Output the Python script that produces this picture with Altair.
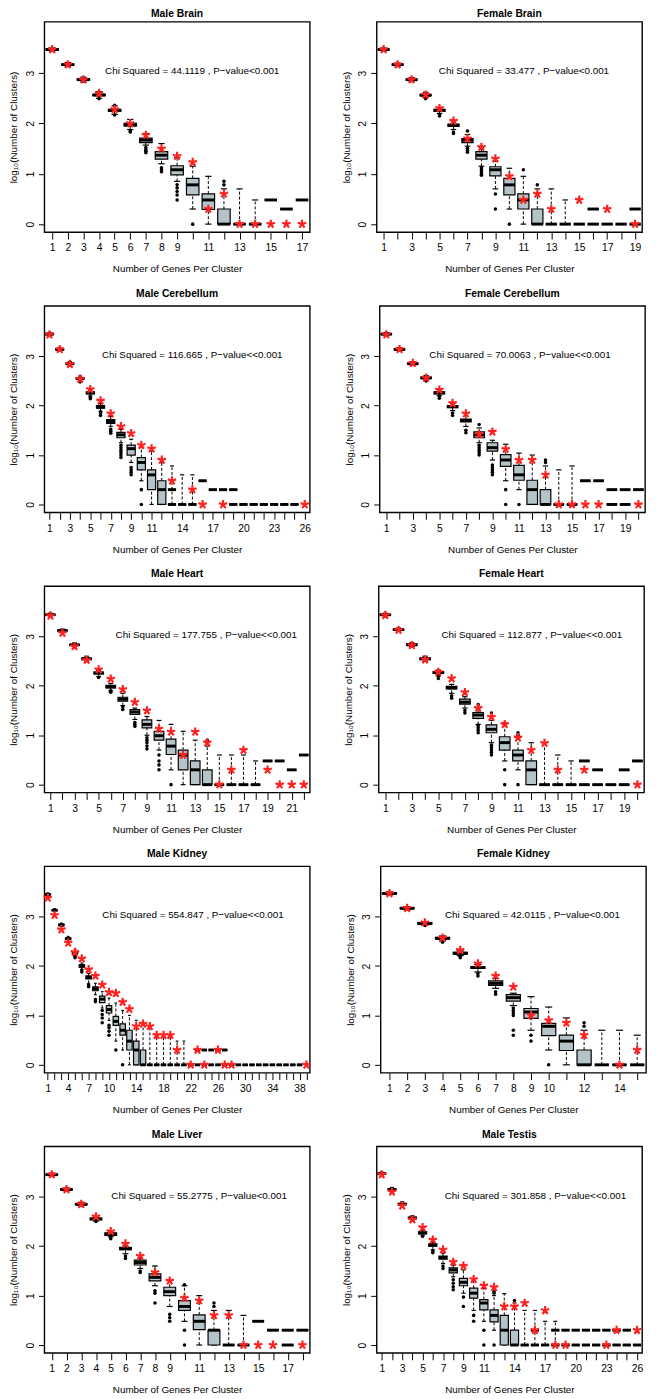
import altair as alt
import pandas as pd

# ---------------- data (log10 number of clusters) ----------------
# box rows: (cluster size, whisker low, q1, median, q3, whisker high)
MB_BOXES = [(1,3.43,3.455,3.47,3.485,3.50),(2,3.13,3.16,3.17,3.18,3.21),(3,2.82,2.86,2.87,2.885,2.92),
            (4,2.50,2.55,2.565,2.58,2.63),(5,2.18,2.24,2.26,2.28,2.35),(6,1.88,1.95,1.97,2.00,2.08),
            (7,1.57,1.62,1.67,1.71,1.80),(8,1.20,1.29,1.37,1.44,1.60),(9,0.85,0.98,1.08,1.16,1.32),
            (10,0.30,0.58,0.78,0.91,1.15),(11,0.00,0.29,0.48,0.60,0.95),(12,0,0,0,0.30,0.70),
            (13,0,0,0,0,0.70),(14,0,0,0,0,0.48),(15,0.48,0.48,0.48,0.48,0.48),(16,0.30,0.30,0.30,0.30,0.30),
            (17,0.48,0.48,0.48,0.48,0.48)]
MB_OUT = [(4,2.49),(5,2.17),(5,2.36),(6,1.83),(6,1.85),(7,1.42),(7,1.45),(7,1.48),(7,1.52),(8,1.04),(8,1.08),
          (8,1.12),(9,0.78),(9,0.72),(9,0.65),(9,0.58),(9,0.48),(10,0.0),(12,0.78),(12,0.85)]
MB_STARS = [(1,3.47),(2,3.17),(3,2.87),(4,2.6),(5,2.28),(6,2.0),(7,1.77),(8,1.5),(9,1.35),(10,1.23),(11,0.3),
            (12,0.6),(13,0),(14,0),(15,0),(16,0),(17,0)]
MB_LABELS = [1,2,3,4,5,6,7,8,9,11,13,15,17]

FB_BOXES = [(1,3.44,3.46,3.47,3.48,3.50),(2,3.13,3.16,3.17,3.18,3.20),(3,2.83,2.86,2.87,2.88,2.91),
            (4,2.51,2.55,2.56,2.58,2.62),(5,2.20,2.24,2.26,2.28,2.32),(6,1.88,1.94,1.96,1.99,2.05),
            (7,1.55,1.62,1.67,1.70,1.78),(8,1.15,1.29,1.37,1.44,1.52),(9,0.70,0.96,1.08,1.14,1.26),
            (10,0.30,0.58,0.78,0.91,1.11),(11,0.00,0.30,0.48,0.60,0.95),(12,0,0,0,0.30,0.70),
            (13,0,0,0,0,0.70),(14,0,0,0,0,0.48),(15,0,0,0,0,0),(16,0,0,0,0,0),(16,0.3,0.3,0.3,0.3,0.3),
            (17,0,0,0,0,0),(18,0,0,0,0,0),(19,0,0,0,0,0),(19,0.3,0.3,0.3,0.3,0.3)]
FB_OUT = [(4,2.49),(5,2.15),(5,2.18),(6,1.80),(6,1.83),(7,1.85),(7,1.43),(7,1.47),(7,1.51),(8,0.97),(8,1.0),
          (8,1.04),(8,1.08),(8,1.12),(9,0.6),(9,0.3),(10,0),(11,1.08),(12,0.78)]
FB_STARS = [(1,3.47),(2,3.17),(3,2.87),(4,2.57),(5,2.3),(6,2.05),(7,1.7),(8,1.53),(9,1.3),(10,0.95),(11,0.48),
            (12,0.6),(13,0.3),(15,0.48),(17,0.3),(19,0)]
FB_LABELS = [1,3,5,7,9,11,13,15,17,19]

MC_BOXES = [(1,3.42,3.44,3.45,3.46,3.48),(2,3.11,3.13,3.14,3.15,3.17),(3,2.81,2.84,2.85,2.86,2.89),
            (4,2.50,2.54,2.55,2.57,2.60),(5,2.20,2.24,2.26,2.28,2.31),(6,1.89,1.95,1.97,2.00,2.04),
            (7,1.58,1.64,1.68,1.72,1.78),(8,1.25,1.35,1.41,1.46,1.52),(9,0.85,1.00,1.13,1.20,1.32),
            (10,0.48,0.70,0.85,0.95,1.15),(11,0.00,0.30,0.60,0.70,1.08),(12,0,0,0.30,0.48,0.85),
            (13,0,0,0,0,0.78),(13,0.3,0.3,0.3,0.3,0.3),(14,0,0,0,0,0.6),(15,0,0,0,0,0.6),
            (16,0.48,0.48,0.48,0.48,0.48),(17,0.3,0.3,0.3,0.3,0.3),(18,0.3,0.3,0.3,0.3,0.3),
            (19,0.3,0.3,0.3,0.3,0.3),(19,0,0,0,0,0),(20,0,0,0,0,0),(21,0,0,0,0,0),(22,0,0,0,0,0),
            (23,0,0,0,0,0),(24,0,0,0,0,0),(25,0,0,0,0,0)]
MC_OUT = [(4,2.48),(5,2.14),(5,2.17),(6,1.80),(6,1.84),(6,1.87),(7,1.44),(7,1.48),(7,1.52),(8,0.95),(8,1.0),
          (8,1.05),(8,1.1),(8,1.15),(8,1.2),(9,0.6),(9,0.65),(9,0.7),(9,0.75),(10,0.3),(10,0)]
MC_STARS = [(1,3.44),(2,3.14),(3,2.84),(4,2.54),(5,2.33),(6,2.1),(7,1.84),(8,1.58),(9,1.44),(10,1.2),(11,1.13),
            (12,0.9),(13,0.48),(15,0.3),(16,0),(18,0),(26,0)]
MC_LABELS = [1,3,5,7,9,11,14,17,20,23,26]

FC_BOXES = [(1,3.43,3.44,3.45,3.46,3.48),(2,3.12,3.13,3.14,3.15,3.17),(3,2.82,2.84,2.85,2.86,2.89),
            (4,2.51,2.55,2.56,2.58,2.61),(5,2.20,2.24,2.26,2.28,2.32),(6,1.90,1.96,1.98,2.00,2.05),
            (7,1.58,1.67,1.70,1.73,1.85),(8,1.25,1.35,1.41,1.47,1.55),(9,0.90,1.08,1.15,1.25,1.30),
            (10,0.48,0.77,0.90,1.01,1.22),(11,0.30,0.49,0.60,0.79,1.04),(12,0,0,0.30,0.49,1.00),
            (13,0,0,0,0.30,0.78),(14,0,0,0,0,0.70),(15,0,0,0,0,0.78),(16,0.48,0.48,0.48,0.48,0.48),
            (17,0.48,0.48,0.48,0.48,0.48),(18,0.3,0.3,0.3,0.3,0.3),(18,0,0,0,0,0),(19,0.3,0.3,0.3,0.3,0.3),
            (19,0,0,0,0,0),(20,0.3,0.3,0.3,0.3,0.3)]
FC_OUT = [(4,2.5),(5,2.15),(5,2.2),(6,1.8),(6,1.85),(7,1.45),(7,1.5),(8,1.62),(8,1.0),(8,1.05),(8,1.1),
          (8,1.15),(8,1.2),(9,0.6),(9,0.65),(9,0.7),(9,0.75),(9,0.8),(10,0.3),(10,0),(11,0),(13,0.85),(13,0.9)]
FC_STARS = [(1,3.44),(2,3.14),(3,2.86),(4,2.56),(5,2.32),(6,2.05),(7,1.84),(8,1.42),(9,1.47),(10,1.12),(11,0.9),
            (12,0.9),(13,0.6),(14,0),(15,0),(16,0),(17,0),(20,0)]
FC_LABELS = [1,3,5,7,9,11,13,15,17,19]

MH_BOXES = [(1,3.42,3.43,3.44,3.45,3.47),(2,3.09,3.11,3.12,3.13,3.15),(3,2.79,2.82,2.83,2.84,2.87),
            (4,2.49,2.53,2.55,2.56,2.60),(5,2.19,2.24,2.26,2.28,2.31),(6,1.90,1.96,1.98,2.01,2.05),
            (7,1.60,1.69,1.73,1.77,1.85),(8,1.32,1.42,1.47,1.52,1.55),(9,1.00,1.15,1.22,1.31,1.38),
            (10,0.70,0.90,0.99,1.08,1.30),(11,0.30,0.61,0.78,0.92,1.22),(12,0,0.30,0.60,0.70,1.08),
            (13,0,0,0.30,0.48,0.90),(14,0,0,0,0.30,0.78),(15,0,0,0,0,0.6),(16,0,0,0,0,0.6),
            (17,0,0,0,0,0.6),(18,0,0,0,0,0.48),(19,0.48,0.48,0.48,0.48,0.48),(20,0.48,0.48,0.48,0.48,0.48),
            (21,0.3,0.3,0.3,0.3,0.3),(22,0.6,0.6,0.6,0.6,0.6)]
MH_OUT = [(5,2.17),(6,1.87),(6,1.9),(7,1.52),(7,1.57),(8,1.18),(8,1.22),(8,1.26),(9,0.72),(9,0.78),(9,0.85),
          (9,0.9),(9,0.95),(10,0.3),(10,0.4),(10,0.48),(10,0.6),(11,0),(14,0.85),(14,0.9)]
MH_STARS = [(1,3.42),(2,3.07),(3,2.8),(4,2.52),(5,2.33),(6,2.14),(7,1.93),(8,1.67),(9,1.5),(10,1.13),(11,1.07),
            (12,0.6),(13,1.07),(14,0.85),(15,0),(16,0.3),(17,0.7),(19,0.3),(20,0),(21,0),(22,0)]
MH_LABELS = [1,3,5,7,9,11,13,15,17,19,21]

FH_BOXES = [(1,3.42,3.43,3.44,3.45,3.47),(2,3.11,3.13,3.14,3.15,3.17),(3,2.80,2.82,2.83,2.85,2.87),
            (4,2.50,2.53,2.55,2.56,2.60),(5,2.20,2.25,2.27,2.29,2.32),(6,1.85,1.94,1.96,1.99,2.03),
            (7,1.55,1.63,1.67,1.73,1.78),(8,1.22,1.34,1.41,1.46,1.55),(9,0.85,1.05,1.12,1.21,1.30),
            (10,0.48,0.70,0.85,0.97,1.25),(11,0.30,0.48,0.60,0.70,0.95),(12,0,0,0.30,0.48,0.85),
            (13,0,0,0,0,0.85),(14,0,0,0,0,0.6),(15,0,0,0,0,0.48),(16,0,0,0,0,0),(16,0.48,0.48,0.48,0.48,0.48),
            (17,0,0,0,0,0),(17,0.3,0.3,0.3,0.3,0.3),(18,0,0,0,0,0),(19,0,0,0,0,0),(19,0.3,0.3,0.3,0.3,0.3),
            (20,0.48,0.48,0.48,0.48,0.48)]
FH_OUT = [(5,2.15),(5,2.2),(6,1.75),(6,1.8),(7,1.45),(7,1.5),(8,1.62),(8,1.05),(8,1.1),(8,1.15),(8,1.2),
          (9,1.45),(9,0.6),(9,0.65),(9,0.7),(9,0.75),(9,0.8),(10,0.3),(10,0),(11,1.0),(11,1.05),(11,0)]
FH_STARS = [(1,3.43),(2,3.13),(3,2.82),(4,2.53),(5,2.28),(6,2.15),(7,1.87),(8,1.55),(9,1.37),(10,1.22),
            (11,0.95),(12,0.7),(13,0.84),(14,0.3),(16,0.3),(20,0)]
FH_LABELS = [1,3,5,7,9,11,13,15,17,19]

MK_BOXES = [(1,3.42,3.44,3.45,3.46,3.48),(2,3.10,3.12,3.13,3.14,3.16),(3,2.80,2.82,2.83,2.85,2.87),
            (4,2.50,2.54,2.55,2.57,2.60),(5,2.22,2.25,2.27,2.29,2.33),(6,1.93,1.98,2.00,2.03,2.06),
            (7,1.65,1.74,1.77,1.80,1.85),(8,1.42,1.50,1.54,1.58,1.65),(9,1.15,1.26,1.33,1.39,1.48),
            (10,0.90,1.05,1.12,1.20,1.35),(11,0.48,0.80,0.88,0.98,1.25),(12,0.30,0.60,0.70,0.83,1.10),
            (13,0,0.30,0.48,0.70,1.00),(14,0,0,0.30,0.48,0.90),(15,0,0,0,0.30,0.85),(16,0,0,0,0,0.78),
            (17,0,0,0,0,0.6),(18,0,0,0,0,0.6),(19,0,0,0,0,0.6),(20,0,0,0,0,0.48),(21,0,0,0,0,0.48),
            (22,0,0,0,0,0),(23,0.3,0.3,0.3,0.3,0.3),(23,0,0,0,0,0),(24,0.3,0.3,0.3,0.3,0.3),(24,0,0,0,0,0),
            (25,0.3,0.3,0.3,0.3,0.3),(25,0,0,0,0,0),(26,0.3,0.3,0.3,0.3,0.3),(26,0,0,0,0,0),
            (27,0.3,0.3,0.3,0.3,0.3),(27,0,0,0,0,0),(28,0,0,0,0,0),(29,0,0,0,0,0),(30,0,0,0,0,0),
            (31,0,0,0,0,0),(32,0,0,0,0,0),(33,0,0,0,0,0),(34,0,0,0,0,0),(35,0,0,0,0,0),(36,0,0,0,0,0),
            (37,0,0,0,0,0),(38,0,0,0,0,0)]
MK_OUT = [(5,2.17),(5,2.2),(6,1.88),(6,1.92),(7,1.58),(7,1.62),(8,1.28),(8,1.32),(9,0.85),(9,0.95),(9,1.02),
          (9,1.1),(10,0.6),(10,0.68),(10,0.75),(10,0.8),(11,0.3),(12,0)]
MK_STARS = [(1,3.38),(2,3.03),(3,2.74),(4,2.47),(5,2.28),(6,2.15),(7,1.93),(8,1.8),(9,1.62),(10,1.47),(11,1.45),
            (12,1.27),(13,1.13),(14,0.78),(15,0.83),(16,0.78),(17,0.6),(18,0.6),(19,0.6),(20,0.3),(22,0),
            (23,0.3),(24,0),(26,0.3),(27,0),(28,0),(39,0)]
MK_LABELS = [1,4,7,10,14,18,22,26,30,34,38]

FK_BOXES = [(1,3.44,3.46,3.47,3.48,3.50),(2,3.14,3.16,3.17,3.18,3.20),(3,2.83,2.85,2.86,2.88,2.90),
            (4,2.51,2.55,2.56,2.58,2.61),(5,2.21,2.24,2.26,2.28,2.31),(6,1.88,1.95,1.97,1.99,2.03),
            (7,1.55,1.61,1.65,1.70,1.75),(8,1.20,1.29,1.36,1.42,1.45),(9,0.70,0.94,1.07,1.14,1.38),
            (10,0.30,0.59,0.78,0.84,1.17),(11,0,0.29,0.48,0.60,0.95),(12,0,0,0,0.30,0.70),
            (13,0,0,0,0,0.70),(14,0,0,0,0,0.70),(15,0,0,0,0,0.60)]
FK_OUT = [(3,2.82),(4,2.48),(5,2.17),(5,2.2),(6,1.8),(6,1.85),(7,1.43),(7,1.48),(8,0.6),(8,0.7),(8,1.0),
          (8,1.05),(8,1.1),(8,1.15),(9,0.48),(9,0.6),(10,0),(12,0.78),(12,0.85)]
FK_STARS = [(1,3.47),(2,3.17),(3,2.88),(4,2.57),(5,2.32),(6,2.05),(7,1.8),(8,1.58),(9,1.0),(10,0.9),(11,0.85),
            (12,0.6),(14,0),(15,0.3)]
FK_LABELS = [1,2,3,4,5,6,7,8,9,10,12,14]

ML_BOXES = [(1,3.43,3.44,3.45,3.46,3.48),(2,3.12,3.14,3.15,3.16,3.18),(3,2.82,2.84,2.85,2.86,2.89),
            (4,2.51,2.54,2.55,2.57,2.60),(5,2.19,2.22,2.24,2.27,2.31),(6,1.85,1.93,1.95,1.98,2.02),
            (7,1.55,1.62,1.67,1.72,1.76),(8,1.20,1.30,1.37,1.44,1.60),(9,0.78,1.00,1.08,1.17,1.30),
            (10,0.48,0.70,0.78,0.90,1.20),(11,0,0.31,0.48,0.61,1.00),(12,0,0,0.30,0.30,0.70),
            (13,0,0,0,0,0.70),(14,0,0,0,0,0.60),(15,0.48,0.48,0.48,0.48,0.48),(16,0.3,0.3,0.3,0.3,0.3),
            (17,0.3,0.3,0.3,0.3,0.3),(17,0,0,0,0,0),(18,0.3,0.3,0.3,0.3,0.3)]
ML_OUT = [(4,2.5),(5,2.15),(5,2.2),(6,1.75),(6,1.8),(7,1.47),(7,1.5),(8,0.85),(8,1.05),(8,1.1),(9,0.48),
          (9,0.55),(9,0.62),(10,0.3),(10,0),(10,1.22),(12,0.78),(12,0.85)]
ML_STARS = [(1,3.45),(2,3.15),(3,2.85),(4,2.6),(5,2.3),(6,2.05),(7,1.8),(8,1.47),(9,1.3),(10,0.95),(11,0.9),
            (12,0.6),(13,0.6),(14,0),(15,0),(16,0),(18,0)]
ML_LABELS = [1,2,3,4,5,6,7,8,9,11,13,15,17]

MT_BOXES = [(1,3.44,3.46,3.47,3.48,3.50),(2,3.12,3.14,3.15,3.16,3.19),(3,2.82,2.84,2.85,2.87,2.90),
            (4,2.52,2.56,2.57,2.59,2.62),(5,2.22,2.25,2.27,2.29,2.33),(6,1.93,2.00,2.02,2.05,2.08),
            (7,1.65,1.74,1.77,1.80,1.86),(8,1.38,1.46,1.52,1.56,1.62),(9,1.05,1.20,1.27,1.35,1.52),
            (10,0.70,0.95,1.05,1.15,1.30),(11,0.48,0.71,0.85,0.92,1.15),(12,0.30,0.47,0.60,0.71,1.00),
            (13,0,0,0.30,0.60,1.04),(14,0,0,0,0.30,0.85),(15,0,0,0,0,0.70),(16,0,0,0,0,0.70),
            (16,0.3,0.3,0.3,0.3,0.3),(17,0,0,0,0,0.48),(18,0,0,0,0,0.48),(18,0.3,0.3,0.3,0.3,0.3),
            (19,0,0,0,0,0),(19,0.3,0.3,0.3,0.3,0.3),(20,0,0,0,0,0),(20,0.3,0.3,0.3,0.3,0.3),
            (21,0,0,0,0,0),(21,0.3,0.3,0.3,0.3,0.3),(22,0,0,0,0,0),(22,0.3,0.3,0.3,0.3,0.3),
            (23,0,0,0,0,0),(23,0.3,0.3,0.3,0.3,0.3),(24,0,0,0,0,0),(24,0.3,0.3,0.3,0.3,0.3),
            (25,0,0,0,0,0),(25,0.3,0.3,0.3,0.3,0.3),(26,0,0,0,0,0)]
MT_OUT = [(5,2.2),(6,1.87),(6,1.9),(7,1.55),(7,1.6),(8,1.12),(8,1.18),(8,1.25),(8,1.32),(9,0.78),(9,0.97),
          (10,0.48),(10,0.6),(11,0.3),(11,0),(12,1.05),(12,1.08),(12,0),(14,0.9)]
MT_STARS = [(1,3.45),(2,3.1),(3,2.82),(4,2.54),(5,2.38),(6,2.13),(7,1.93),(8,1.68),(9,1.6),(10,1.33),(11,1.2),
            (12,1.17),(13,0.78),(14,0.78),(15,0.85),(16,0.3),(17,0.7),(18,0),(19,0),(23,0),(24,0.3),(26,0.3)]
MT_LABELS = [1,3,5,7,9,11,14,17,20,23,26]

TITLES = ["Male Brain", "Female Brain", "Male Cerebellum", "Female Cerebellum", "Male Heart",
          "Female Heart", "Male Kidney", "Female Kidney", "Male Liver", "Male Testis"]
N_SIZES = [17, 19, 26, 20, 22, 20, 39, 15, 18, 26]
CHI = ["44.1119", "33.477", "116.665", "70.0063", "177.755", "112.877", "554.847", "42.0115", "55.2775", "301.858"]
PVAL = ["<0.001", "<0.001", "<<0.001", "<<0.001", "<<0.001", "<<0.001", "<<0.001", "<0.001", "<0.001", "<<0.001"]

# layout only
TEXT_XFRAC = [0.557, 0.555, 0.557, 0.529, 0.61, 0.577, 0.56, 0.572, 0.583, 0.598]
W = 270
ROW_H = [214, 210, 210, 210, 210]
TITLE_Y = [-3, -7, -7, -7, -7]
FONT = "Liberation Sans"
STAR = "M0,0L0,-1M0,0L0.951,-0.309M0,0L0.588,0.809M0,0L-0.588,0.809M0,0L-0.951,-0.309"

PANEL_DATA = [
    (MB_BOXES, MB_OUT, MB_STARS, MB_LABELS), (FB_BOXES, FB_OUT, FB_STARS, FB_LABELS),
    (MC_BOXES, MC_OUT, MC_STARS, MC_LABELS), (FC_BOXES, FC_OUT, FC_STARS, FC_LABELS),
    (MH_BOXES, MH_OUT, MH_STARS, MH_LABELS), (FH_BOXES, FH_OUT, FH_STARS, FH_LABELS),
    (MK_BOXES, MK_OUT, MK_STARS, MK_LABELS), (FK_BOXES, FK_OUT, FK_STARS, FK_LABELS),
    (ML_BOXES, ML_OUT, ML_STARS, ML_LABELS), (MT_BOXES, MT_OUT, MT_STARS, MT_LABELS),
]


def panel(i):
    boxes, outs, stars, shown = PANEL_DATA[i]
    n = N_SIZES[i]
    row = i // 2
    bdf = pd.DataFrame(boxes, columns=["x", "lo", "q1", "med", "q3", "hi"])
    bdf["xl"] = bdf["x"] - 0.4
    bdf["xr"] = bdf["x"] + 0.4
    bdf["cl"] = bdf["x"] - 0.2
    bdf["cr"] = bdf["x"] + 0.2
    odf = pd.DataFrame(outs, columns=["x", "v"])
    sdf = pd.DataFrame(stars, columns=["x", "v"])
    tdf = pd.DataFrame({"t": [f"Chi Squared = {CHI[i]} , P\u2212value{PVAL[i]}"], "h": [TITLES[i]]})

    xs = alt.Scale(domain=[0.5, n + 0.5], nice=False, zero=False)
    ys = alt.Scale(domain=[-0.16, 4.02], nice=False, zero=False)
    xaxis = alt.Axis(values=list(range(1, n + 1)), format="d",
                     labelExpr=f"indexof({shown}, datum.value) >= 0 ? datum.label : ''",
                     title="Number of Genes Per Cluster", tickSize=7, labelPadding=4,
                     titlePadding=11, labelOverlap=False, labelFlush=False, ticks=True)
    yaxis = alt.Axis(values=[0, 1, 2, 3], format="d", title="log\u2081\u2080(Number of Clusters)",
                     labelAngle=270, labelAlign="center", labelBaseline="bottom",
                     tickSize=6, labelPadding=3, titlePadding=7, labelOverlap=False, ticks=True)

    def X(f):
        return alt.X(f, scale=xs, axis=xaxis)

    def Y(f):
        return alt.Y(f, scale=ys, axis=yaxis)

    base = alt.Chart(bdf)
    wl = base.mark_rule(color="black", strokeWidth=1, strokeDash=[3, 2]).encode(
        x=X("x:Q"), y=Y("lo:Q"), y2="q1:Q")
    wh = base.mark_rule(color="black", strokeWidth=1, strokeDash=[3, 2]).encode(
        x=X("x:Q"), y=Y("q3:Q"), y2="hi:Q")
    cl = base.mark_rule(color="black", strokeWidth=1.2).encode(x=X("cl:Q"), x2="cr:Q", y=Y("lo:Q"))
    ch = base.mark_rule(color="black", strokeWidth=1.2).encode(x=X("cl:Q"), x2="cr:Q", y=Y("hi:Q"))
    bx = base.mark_rect(fill="#b4c4c8", stroke="black", strokeWidth=1.2).encode(
        x=X("xl:Q"), x2="xr:Q", y=Y("q1:Q"), y2="q3:Q")
    md = base.mark_rule(color="black", strokeWidth=3).encode(x=X("xl:Q"), x2="xr:Q", y=Y("med:Q"))
    pts = alt.Chart(odf).mark_circle(color="black", size=13, opacity=1).encode(x=X("x:Q"), y=Y("v:Q"))
    st = alt.Chart(sdf).mark_point(shape=STAR, stroke="#ff2020", strokeWidth=2.2, size=80,
                                   filled=False, opacity=1).encode(x=X("x:Q"), y=Y("v:Q"))
    tx = alt.Chart(tdf).mark_text(font=FONT, fontSize=10, color="black").encode(
        text="t:N", x=alt.value(W * TEXT_XFRAC[i]), y=alt.value(50))
    ttl = alt.Chart(tdf).mark_text(font=FONT, fontSize=10.5, fontWeight="bold", color="black",
                                   baseline="bottom").encode(
        text="h:N", x=alt.value(W / 2), y=alt.value(TITLE_Y[row]))
    return alt.layer(wl, wh, cl, ch, bx, md, pts, st, tx, ttl).properties(width=W, height=ROW_H[row])


rows = [alt.hconcat(panel(2 * r), panel(2 * r + 1), spacing=29) for r in range(5)]
chart = alt.vconcat(*rows, spacing=13).properties(
    padding={"top": -12, "left": 0, "right": 0, "bottom": 0}).configure_view(
    stroke="black", strokeWidth=1.4).configure_axis(
    grid=False, domain=False, tickColor="black", labelColor="black", titleColor="black",
    labelFont=FONT, titleFont=FONT, labelFontSize=10.5, titleFontSize=10,
    titleFontWeight="normal", tickWidth=1)

chart.save("out.html", embed_options={"renderer": "svg", "actions": False})
